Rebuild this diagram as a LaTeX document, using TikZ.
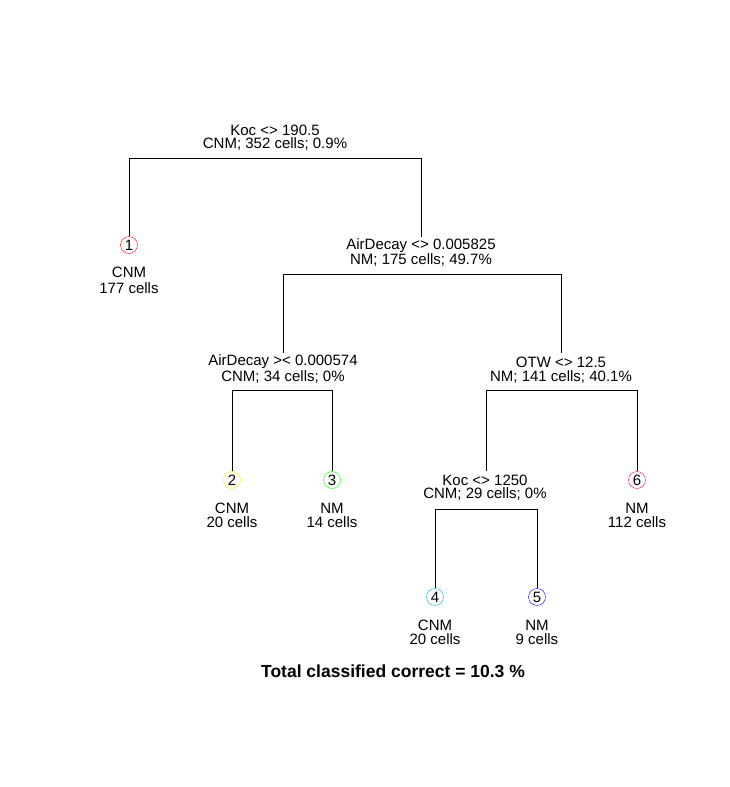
\documentclass[tikz,border=0pt]{standalone}
\usepackage{fontspec}
\setmainfont{Liberation Sans}
\begin{document}
\begin{tikzpicture}[x=1pt,y=-1pt,
  lbl/.style={inner sep=0pt,font=\fontsize{15}{16}\selectfont},
  leaf/.style={circle,draw,inner sep=0pt,minimum size=17pt,font=\fontsize{15}{16}\selectfont},
  br/.style={draw=black,line width=0.6pt}]
\useasboundingbox (0,0) rectangle (729,787);
\fill[white] (0,0) rectangle (729,787);
\coordinate (s0l) at (129,158);
\coordinate (s0r) at (421,158);
\coordinate (s1l) at (283,274);
\coordinate (s1r) at (561,274);
\coordinate (s2l) at (232,390);
\coordinate (s2r) at (332,390);
\coordinate (s3l) at (486,390);
\coordinate (s3r) at (637,390);
\coordinate (s4l) at (435,509);
\coordinate (s4r) at (537,509);
\node[lbl] (t0a) at (275,130) {Koc <> 190.5};
\node[lbl] (t0b) at (275,144) {CNM; 352 cells; 0.9\%};
\node[lbl] (t1a) at (421,246) {AirDecay <> 0.005825};
\node[lbl] (t1b) at (421,260) {NM; 175 cells; 49.7\%};
\node[lbl] (t2a) at (283,362) {AirDecay >< 0.000574};
\node[lbl] (t2b) at (283,377) {CNM; 34 cells; 0\%};
\node[lbl] (t3a) at (561,362) {OTW <> 12.5};
\node[lbl] (t3b) at (561,377) {NM; 141 cells; 40.1\%};
\node[lbl] (t4a) at (485,480) {Koc <> 1250};
\node[lbl] (t4b) at (485,494) {CNM; 29 cells; 0\%};
\node[leaf,draw=red] (n1) at (129,245) {1};
\node[leaf,draw=yellow] (n2) at (232,480) {2};
\node[leaf,draw=green] (n3) at (332,480) {3};
\node[leaf,draw=cyan] (n4) at (435,597) {4};
\node[leaf,draw=blue] (n5) at (537,597) {5};
\node[leaf,draw=magenta] (n6) at (637,480) {6};
\node[lbl] (l1a) at (129,272) {CNM}; \node[lbl] (l1b) at (129,288) {177 cells};
\node[lbl] (l2a) at (232,508) {CNM}; \node[lbl] (l2b) at (232,522) {20 cells};
\node[lbl] (l3a) at (332,508) {NM}; \node[lbl] (l3b) at (332,522) {14 cells};
\node[lbl] (l6a) at (637,508) {NM}; \node[lbl] (l6b) at (637,522) {112 cells};
\node[lbl] (l4a) at (435,625) {CNM}; \node[lbl] (l4b) at (435,639) {20 cells};
\node[lbl] (l5a) at (537,625) {NM}; \node[lbl] (l5b) at (537,639) {9 cells};
\node[lbl,font=\fontsize{17.5}{18}\selectfont\bfseries] (ft) at (393,671) {Total classified correct = 10.3 \%};
\draw[br] (n1.north) -- (s0l) -- (s0r) -- (421,237);
\draw[br] (n2.north) -- (s2l) -- (s2r) -- (n3.north);
\draw[br] (283,353) -- (s1l) -- (s1r) -- (561,353);
\draw[br] (486,471) -- (s3l) -- (s3r) -- (n6.north);
\draw[br] (n4.north) -- (s4l) -- (s4r) -- (n5.north);
\end{tikzpicture}
\end{document}
